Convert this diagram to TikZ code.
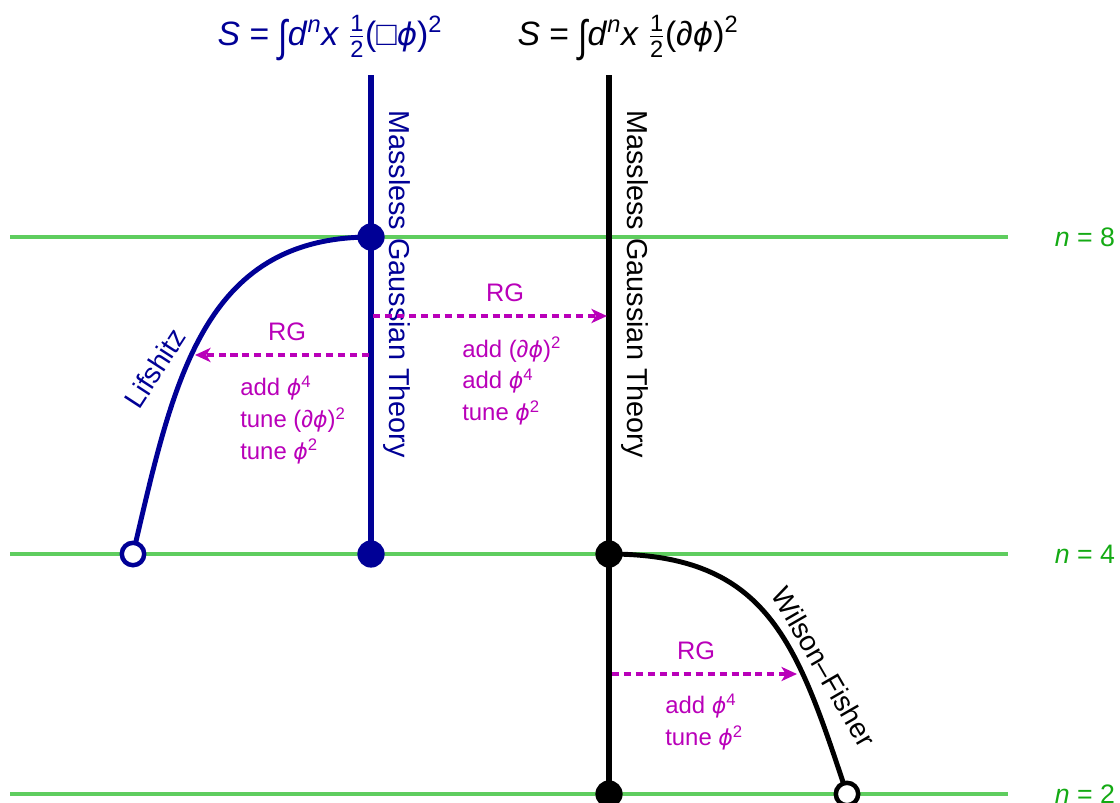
\documentclass[tikz,border=0pt]{standalone}
\usepackage{amsmath}
\usepackage{graphicx}
\usepackage{fontspec}
\setmainfont{Liberation Sans}
\newfontfamily\phifont[Scale=0.92]{DejaVu Sans}
\usepackage{xcolor}
\usepackage{tikz}
\usetikzlibrary{arrows.meta,positioning}

\definecolor{thblue}{RGB}{0,0,150}
\definecolor{nlinecol}{RGB}{95,205,95}
\definecolor{nlabcol}{RGB}{20,170,20}
\definecolor{rgcol}{RGB}{185,0,185}

\newcommand{\phiv}{{\phifont\itshape ϕ}}
\newcommand{\half}{$\frac{\text{1}}{\text{2}}$}
\newcommand{\intg}{\raisebox{-0.17em}{\scalebox{1}[1.3]{∫}}}

\begin{document}
\begin{tikzpicture}[
    x=0.025cm, y=-0.025cm,
    nline/.style={line width=2.2pt, draw=nlinecol},
    nlab/.style={font=\fontsize{19}{23}\selectfont, text=nlabcol},
    theoryline/.style={line width=3.9pt},
    flowline/.style={line width=3.5pt},
    fdot/.style={circle, fill=#1, inner sep=0pt, minimum size=0.68cm},
    odot/.style={circle, draw=#1, fill=white, line width=3.2pt, inner sep=0pt, minimum size=0.56cm},
    vlabel/.style={font=\fontsize{20.5}{24}\selectfont, rotate=-90},
    curvelabel/.style={font=\fontsize{20}{24}\selectfont},
    formula/.style={font=\fontsize{24}{28}\selectfont},
    rgarrow/.style={-{Stealth[length=11pt, width=10pt, inset=3pt]}, line width=2.6pt, draw=rgcol,
        dash pattern=on 5pt off 3.5pt},
    rglab/.style={font=\fontsize{18}{22.7}\selectfont, text=rgcol},
    rgsteps/.style={font=\fontsize{17}{22.7}\selectfont, text=rgcol, align=left, inner sep=0pt, anchor=west}
]
\useasboundingbox (0,0) rectangle (1120,803);

% n = 8, 4, 2
\coordinate (l8) at (10,237);
\coordinate (r8) at (1008,237);
\coordinate (l4) at (10,554);
\coordinate (r4) at (1008,554);
\coordinate (l2) at (10,794);
\coordinate (r2) at (1008,794);
\draw[nline] (l8) -- (r8);
\draw[nline] (l4) -- (r4);
\draw[nline] (l2) -- (r2);
\node[nlab] (n8) at (1085,237) {\textit{n} = 8};
\node[nlab] (n4) at (1085,554) {\textit{n} = 4};
\node[nlab] (n2) at (1085,794) {\textit{n} = 2};

% fixed points
\coordinate (btop) at (371,75);
\coordinate (b8) at (371,237);
\coordinate (b4) at (371,554);
\coordinate (ktop) at (609,75);
\coordinate (k4) at (609,554);
\coordinate (k2) at (609,794);
\coordinate (lif4) at (133,554);
\coordinate (wf2) at (847,794);

\draw[theoryline, thblue] (btop) -- (b4);
\draw[theoryline, black] (ktop) -- (k2);
\draw[flowline, thblue] (b8) .. controls +(-170,0) and +(40,-170) .. (lif4);
\draw[flowline, black] (k4) .. controls +(160,0) and +(-50,-150) .. (wf2);

\node[fdot=thblue] (b8dot) at (b8) {};
\node[fdot=thblue] (b4dot) at (b4) {};
\node[fdot=black] (k4dot) at (k4) {};
\node[fdot=black] (k2dot) at (k2) {};
\node[odot=thblue] (lifdot) at (lif4) {};
\node[odot=black] (wfdot) at (wf2) {};

% actions
\node[formula, text=thblue] (actbox) at (330,38) {\textit{S} = \intg\textit{d}\textsuperscript{\textit{n}}\textit{x} \half(□\phiv)\textsuperscript{2}};
\node[formula] (actgrad) at (628,38) {\textit{S} = \intg\textit{d}\textsuperscript{\textit{n}}\textit{x} \half(∂\phiv)\textsuperscript{2}};

\node[vlabel, text=thblue] (mgtblue) at (397,284) {Massless Gaussian Theory};
\node[vlabel] (mgtblack) at (635,284) {Massless Gaussian Theory};
\node[curvelabel, text=thblue, rotate=57] (lifshitz) at (155,368) {Lifshitz};
\node[curvelabel, rotate=-60] (wilson) at (824,667) {Wilson--Fisher};

% RG flows
\coordinate (rg1s) at (369,355);
\coordinate (rg1e) at (195,355);
\coordinate (rg2s) at (373,316);
\coordinate (rg2e) at (607,316);
\coordinate (rg3s) at (612,674);
\coordinate (rg3e) at (797,674);
\draw[rgarrow] (rg1s) -- (rg1e);
\draw[rgarrow] (rg2s) -- (rg2e);
\draw[rgarrow] (rg3s) -- (rg3e);
\node[rglab] (rg1) at (287,332) {RG};
\node[rglab] (rg2) at (505,293) {RG};
\node[rglab] (rg3) at (696,651) {RG};
\node[rgsteps] (steps1) at (240,420) {add \phiv\textsuperscript{4}\\tune (∂\phiv)\textsuperscript{2}\\tune \phiv\textsuperscript{2}};
\node[rgsteps] (steps2) at (462,381) {add (∂\phiv)\textsuperscript{2}\\add \phiv\textsuperscript{4}\\tune \phiv\textsuperscript{2}};
\node[rgsteps] (steps3) at (665,722) {add \phiv\textsuperscript{4}\\tune \phiv\textsuperscript{2}};
\end{tikzpicture}
\end{document}
